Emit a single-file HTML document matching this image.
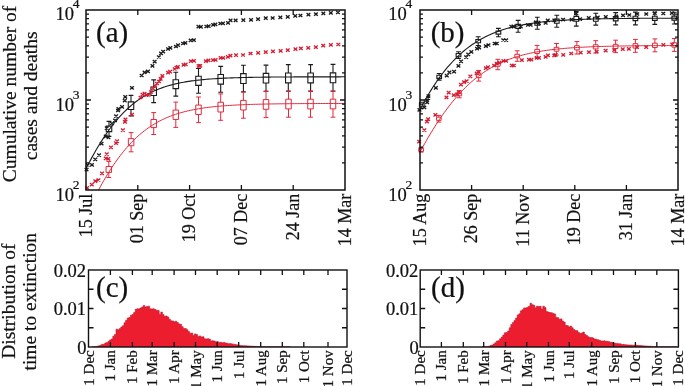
<!DOCTYPE html>
<html><head><meta charset="utf-8"><style>html,body{margin:0;padding:0;background:#fff;overflow:hidden}svg{display:block;will-change:transform}text{font-family:"Liberation Serif",serif;stroke:#111;stroke-width:0.22px}</style></head>
<body><svg width="685" height="386" viewBox="0 0 685 386">
<rect width="685" height="386" fill="#fff"/>
<defs>
<clipPath id="ca"><rect x="86" y="10" width="259" height="180"/></clipPath>
<clipPath id="cb"><rect x="420" y="10" width="258" height="180"/></clipPath>
<clipPath id="cc"><rect x="88.5" y="270" width="258.5" height="77"/></clipPath>
<clipPath id="cd"><rect x="420.2" y="270" width="258.2" height="77"/></clipPath>
</defs>
<g clip-path="url(#ca)" fill="none" stroke-linecap="butt">
<path d="M86.00 168.78 87.63 165.58 89.26 162.44 90.89 159.37 92.52 156.37 94.14 153.44 95.77 150.58 97.40 147.79 99.03 145.07 100.66 142.42 102.29 139.84 103.92 137.33 105.55 134.90 107.18 132.53 108.81 130.24 110.43 128.01 112.06 125.86 113.69 123.77 115.32 121.76 116.95 119.81 118.58 117.92 120.21 116.11 121.84 114.36 123.47 112.67 125.09 111.04 126.72 109.48 128.35 107.97 129.98 106.53 131.61 105.14 133.24 103.80 134.87 102.53 136.50 101.30 138.13 100.12 139.75 99.00 141.38 97.92 143.01 96.89 144.64 95.91 146.27 94.97 147.90 94.07 149.53 93.21 151.16 92.39 152.79 91.61 154.42 90.86 156.04 90.15 157.67 89.47 159.30 88.83 160.93 88.21 162.56 87.63 164.19 87.07 165.82 86.54 167.45 86.04 169.08 85.56 170.70 85.10 172.33 84.67 173.96 84.26 175.59 83.87 177.22 83.50 178.85 83.15 180.48 82.82 182.11 82.50 183.74 82.20 185.36 81.91 186.99 81.64 188.62 81.39 190.25 81.14 191.88 80.91 193.51 80.69 195.14 80.49 196.77 80.29 198.40 80.10 200.03 79.93 201.65 79.76 203.28 79.60 204.91 79.45 206.54 79.31 208.17 79.17 209.80 79.05 211.43 78.93 213.06 78.81 214.69 78.70 216.31 78.60 217.94 78.50 219.57 78.41 221.20 78.33 222.83 78.24 224.46 78.17 226.09 78.09 227.72 78.02 229.35 77.96 230.97 77.89 232.60 77.83 234.23 77.78 235.86 77.73 237.49 77.68 239.12 77.63 240.75 77.58 242.38 77.54 244.01 77.50 245.64 77.46 247.26 77.43 248.89 77.39 250.52 77.36 252.15 77.33 253.78 77.30 255.41 77.27 257.04 77.25 258.67 77.22 260.30 77.20 261.92 77.18 263.55 77.16 265.18 77.14 266.81 77.12 268.44 77.10 270.07 77.09 271.70 77.07 273.33 77.06 274.96 77.04 276.58 77.03 278.21 77.02 279.84 77.01 281.47 76.99 283.10 76.98 284.73 76.97 286.36 76.96 287.99 76.96 289.62 76.95 291.25 76.94 292.87 76.93 294.50 76.92 296.13 76.92 297.76 76.91 299.39 76.91 301.02 76.90 302.65 76.89 304.28 76.89 305.91 76.88 307.53 76.88 309.16 76.88 310.79 76.87 312.42 76.87 314.05 76.86 315.68 76.86 317.31 76.86 318.94 76.85 320.57 76.85 322.19 76.85 323.82 76.85 325.45 76.84 327.08 76.84 328.71 76.84 330.34 76.84 331.97 76.83 333.60 76.83 335.23 76.83 336.86 76.83 338.48 76.83 340.11 76.83 341.74 76.82 343.37 76.82 345.00 76.82" stroke="#1a1a1a" stroke-width="1.1"/>
<path d="M86.00 215.24 87.63 211.75 89.26 208.32 90.89 204.95 92.52 201.65 94.14 198.41 95.77 195.23 97.40 192.12 99.03 189.07 100.66 186.10 102.29 183.18 103.92 180.34 105.55 177.57 107.18 174.86 108.81 172.22 110.43 169.65 112.06 167.15 113.69 164.71 115.32 162.35 116.95 160.05 118.58 157.82 120.21 155.65 121.84 153.55 123.47 151.52 125.09 149.55 126.72 147.65 128.35 145.81 129.98 144.03 131.61 142.31 133.24 140.65 134.87 139.05 136.50 137.51 138.13 136.02 139.75 134.59 141.38 133.21 143.01 131.89 144.64 130.61 146.27 129.39 147.90 128.22 149.53 127.09 151.16 126.00 152.79 124.97 154.42 123.97 156.04 123.02 157.67 122.10 159.30 121.23 160.93 120.39 162.56 119.59 164.19 118.83 165.82 118.09 167.45 117.39 169.08 116.72 170.70 116.09 172.33 115.48 173.96 114.89 175.59 114.34 177.22 113.81 178.85 113.30 180.48 112.82 182.11 112.36 183.74 111.92 185.36 111.50 186.99 111.11 188.62 110.73 190.25 110.37 191.88 110.02 193.51 109.69 195.14 109.38 196.77 109.09 198.40 108.80 200.03 108.53 201.65 108.28 203.28 108.04 204.91 107.81 206.54 107.59 208.17 107.38 209.80 107.18 211.43 106.99 213.06 106.81 214.69 106.64 216.31 106.48 217.94 106.32 219.57 106.17 221.20 106.03 222.83 105.90 224.46 105.78 226.09 105.66 227.72 105.54 229.35 105.44 230.97 105.33 232.60 105.24 234.23 105.14 235.86 105.06 237.49 104.97 239.12 104.89 240.75 104.82 242.38 104.75 244.01 104.68 245.64 104.61 247.26 104.55 248.89 104.49 250.52 104.44 252.15 104.39 253.78 104.34 255.41 104.29 257.04 104.25 258.67 104.20 260.30 104.16 261.92 104.12 263.55 104.09 265.18 104.05 266.81 104.02 268.44 103.99 270.07 103.96 271.70 103.93 273.33 103.91 274.96 103.88 276.58 103.86 278.21 103.83 279.84 103.81 281.47 103.79 283.10 103.77 284.73 103.75 286.36 103.74 287.99 103.72 289.62 103.70 291.25 103.69 292.87 103.67 294.50 103.66 296.13 103.65 297.76 103.64 299.39 103.62 301.02 103.61 302.65 103.60 304.28 103.59 305.91 103.58 307.53 103.58 309.16 103.57 310.79 103.56 312.42 103.55 314.05 103.54 315.68 103.54 317.31 103.53 318.94 103.52 320.57 103.52 322.19 103.51 323.82 103.51 325.45 103.50 327.08 103.50 328.71 103.49 330.34 103.49 331.97 103.49 333.60 103.48 335.23 103.48 336.86 103.47 338.48 103.47 340.11 103.47 341.74 103.47 343.37 103.46 345.00 103.46" stroke="#e02a3c" stroke-width="1.0"/>
</g><g fill="none" stroke-linecap="butt">
<path d="M106.25 126.12h5.50v5.55h-5.50zM128.25 101.86h5.50v7.58h-5.50zM150.95 87.05h5.50v8.40h-5.50zM173.05 79.80h5.50v8.81h-5.50zM195.75 76.28h5.50v9.14h-5.50zM217.95 74.53h5.50v9.55h-5.50zM240.65 73.65h5.50v9.80h-5.50zM263.25 73.35h5.50v9.69h-5.50zM285.55 73.01h5.50v9.88h-5.50zM307.85 73.01h5.50v9.88h-5.50zM330.25 72.87h5.50v9.95h-5.50z" stroke="#1a1a1a" stroke-width="1.1"/><path d="M109.00 121.40V126.12M106.60 121.40h4.80M109.00 131.68V136.40M106.60 136.40h4.80M131.00 95.40V101.86M128.60 95.40h4.80M131.00 109.44V115.90M128.60 115.90h4.80M153.70 79.90V87.05M151.30 79.90h4.80M153.70 95.45V102.60M151.30 102.60h4.80M175.80 72.30V79.80M173.40 72.30h4.80M175.80 88.60V96.10M173.40 96.10h4.80M198.50 68.50V76.28M196.10 68.50h4.80M198.50 85.42V93.20M196.10 93.20h4.80M220.70 66.40V74.53M218.30 66.40h4.80M220.70 84.07V92.20M218.30 92.20h4.80M243.40 65.30V73.65M241.00 65.30h4.80M243.40 83.45V91.80M241.00 91.80h4.80M266.00 65.10V73.35M263.60 65.10h4.80M266.00 83.05V91.30M263.60 91.30h4.80M288.30 64.60V73.01M285.90 64.60h4.80M288.30 82.89V91.30M285.90 91.30h4.80M310.60 64.60V73.01M308.20 64.60h4.80M310.60 82.89V91.30M308.20 91.30h4.80M333.00 64.40V72.87M330.60 64.40h4.80M333.00 82.83V91.30M330.60 91.30h4.80" stroke="#1a1a1a" stroke-width="1.1"/>
<path d="M106.05 166.47h5.50v5.96h-5.50zM128.35 138.65h5.50v7.10h-5.50zM150.95 119.50h5.50v8.10h-5.50zM173.05 110.07h5.50v9.36h-5.50zM195.75 105.06h5.50v9.47h-5.50zM217.95 102.22h5.50v9.77h-5.50zM240.65 100.39h5.50v9.62h-5.50zM263.25 99.58h5.50v9.73h-5.50zM285.75 99.18h5.50v9.73h-5.50zM307.75 99.18h5.50v9.73h-5.50zM330.25 99.18h5.50v9.73h-5.50z" stroke="#e02a3c" stroke-width="1.0"/><path d="M108.80 161.40V166.47M106.40 161.40h4.80M108.80 172.43V177.50M106.40 177.50h4.80M131.10 132.60V138.65M128.70 132.60h4.80M131.10 145.75V151.80M128.70 151.80h4.80M153.70 112.60V119.50M151.30 112.60h4.80M153.70 127.60V134.50M151.30 134.50h4.80M175.80 102.10V110.07M173.40 102.10h4.80M175.80 119.43V127.40M173.40 127.40h4.80M198.50 97.00V105.06M196.10 97.00h4.80M198.50 114.54V122.60M196.10 122.60h4.80M220.70 93.90V102.22M218.30 93.90h4.80M220.70 111.98V120.30M218.30 120.30h4.80M243.40 92.20V100.39M241.00 92.20h4.80M243.40 110.01V118.20M241.00 118.20h4.80M266.00 91.30V99.58M263.60 91.30h4.80M266.00 109.32V117.60M263.60 117.60h4.80M288.50 90.90V99.18M286.10 90.90h4.80M288.50 108.92V117.20M286.10 117.20h4.80M310.50 90.90V99.18M308.10 90.90h4.80M310.50 108.92V117.20M308.10 117.20h4.80M333.00 90.90V99.18M330.60 90.90h4.80M333.00 108.92V117.20M330.60 117.20h4.80" stroke="#e02a3c" stroke-width="1.0"/>
<path d="M84.7 168.0l3.7 3.2M84.7 171.2l3.7 -3.2M85.8 163.4l3.7 3.2M85.8 166.6l3.7 -3.2M90.1 163.2l3.7 3.2M90.1 166.4l3.7 -3.2M93.4 157.8l3.7 3.2M93.4 161.0l3.7 -3.2M97.2 153.6l3.7 3.2M97.2 156.8l3.7 -3.2M99.7 142.1l3.7 3.2M99.7 145.3l3.7 -3.2M103.9 134.8l3.7 3.2M103.9 138.0l3.7 -3.2M106.5 135.8l3.7 3.2M106.5 139.0l3.7 -3.2M104.9 126.5l3.7 3.2M104.9 129.7l3.7 -3.2M110.1 121.9l3.7 3.2M110.1 125.1l3.7 -3.2M113.2 118.8l3.7 3.2M113.2 122.0l3.7 -3.2M114.2 114.6l3.7 3.2M114.2 117.8l3.7 -3.2M116.2 108.9l3.7 3.2M116.2 112.1l3.7 -3.2M116.6 107.3l3.7 3.2M116.6 110.5l3.7 -3.2M120.2 105.2l3.7 3.2M120.2 108.4l3.7 -3.2M122.9 99.0l3.7 3.2M122.9 102.2l3.7 -3.2M123.4 95.3l3.7 3.2M123.4 98.5l3.7 -3.2M130.1 86.2l3.7 3.2M130.1 89.4l3.7 -3.2M139.8 73.9l3.7 3.2M139.8 77.1l3.7 -3.2M142.7 70.7l3.7 3.2M142.7 73.9l3.7 -3.2M146.1 69.7l3.7 3.2M146.1 72.9l3.7 -3.2M150.6 64.3l3.7 3.2M150.6 67.5l3.7 -3.2M152.8 60.0l3.7 3.2M152.8 63.2l3.7 -3.2M157.0 55.4l3.7 3.2M157.0 58.6l3.7 -3.2M159.2 51.8l3.7 3.2M159.2 55.0l3.7 -3.2M161.3 50.0l3.7 3.2M161.3 53.2l3.7 -3.2M166.2 47.4l3.7 3.2M166.2 50.6l3.7 -3.2M168.5 46.3l3.7 3.2M168.5 49.5l3.7 -3.2M174.1 44.9l3.7 3.2M174.1 48.1l3.7 -3.2M176.2 43.5l3.7 3.2M176.2 46.7l3.7 -3.2M181.2 41.9l3.7 3.2M181.2 45.1l3.7 -3.2M183.5 41.3l3.7 3.2M183.5 44.5l3.7 -3.2M188.8 38.7l3.7 3.2M188.8 41.9l3.7 -3.2M192.0 38.6l3.7 3.2M192.0 41.8l3.7 -3.2M196.6 25.1l3.7 3.2M196.6 28.3l3.7 -3.2M199.0 25.3l3.7 3.2M199.0 28.5l3.7 -3.2M204.5 24.9l3.7 3.2M204.5 28.1l3.7 -3.2M206.8 24.6l3.7 3.2M206.8 27.8l3.7 -3.2M211.3 23.3l3.7 3.2M211.3 26.5l3.7 -3.2M213.5 22.8l3.7 3.2M213.5 26.0l3.7 -3.2M218.5 21.9l3.7 3.2M218.5 25.1l3.7 -3.2M221.1 21.7l3.7 3.2M221.1 24.9l3.7 -3.2M226.2 21.2l3.7 3.2M226.2 24.4l3.7 -3.2M228.7 18.7l3.7 3.2M228.7 21.9l3.7 -3.2M233.8 18.7l3.7 3.2M233.8 21.9l3.7 -3.2M241.5 18.5l3.7 3.2M241.5 21.7l3.7 -3.2M249.2 18.2l3.7 3.2M249.2 21.4l3.7 -3.2M256.2 17.6l3.7 3.2M256.2 20.8l3.7 -3.2M263.9 16.5l3.7 3.2M263.9 19.7l3.7 -3.2M270.8 16.4l3.7 3.2M270.8 19.6l3.7 -3.2M278.5 15.8l3.7 3.2M278.5 19.0l3.7 -3.2M285.9 15.2l3.7 3.2M285.9 18.4l3.7 -3.2M293.4 14.3l3.7 3.2M293.4 17.5l3.7 -3.2M298.6 13.9l3.7 3.2M298.6 17.1l3.7 -3.2M306.6 13.1l3.7 3.2M306.6 16.3l3.7 -3.2M314.1 12.6l3.7 3.2M314.1 15.8l3.7 -3.2M321.5 11.7l3.7 3.2M321.5 14.9l3.7 -3.2M329.0 11.3l3.7 3.2M329.0 14.5l3.7 -3.2M336.1 10.9l3.7 3.2M336.1 14.1l3.7 -3.2" stroke="#1a1a1a" stroke-width="1.35"/>
<path d="M85.2 186.2l3.7 3.2M85.2 189.4l3.7 -3.2M89.9 183.1l3.7 3.2M89.9 186.3l3.7 -3.2M93.5 179.5l3.7 3.2M93.5 182.7l3.7 -3.2M96.6 178.4l3.7 3.2M96.6 181.6l3.7 -3.2M100.2 171.7l3.7 3.2M100.2 174.9l3.7 -3.2M103.9 156.7l3.7 3.2M103.9 159.9l3.7 -3.2M104.9 152.5l3.7 3.2M104.9 155.7l3.7 -3.2M106.5 157.2l3.7 3.2M106.5 160.4l3.7 -3.2M109.1 145.7l3.7 3.2M109.1 148.9l3.7 -3.2M114.2 141.6l3.7 3.2M114.2 144.8l3.7 -3.2M115.2 139.5l3.7 3.2M115.2 142.7l3.7 -3.2M121.0 128.6l3.7 3.2M121.0 131.8l3.7 -3.2M123.1 120.3l3.7 3.2M123.1 123.5l3.7 -3.2M123.6 117.7l3.7 3.2M123.6 120.9l3.7 -3.2M130.2 113.1l3.7 3.2M130.2 116.3l3.7 -3.2M138.7 95.9l3.7 3.2M138.7 99.1l3.7 -3.2M140.7 92.9l3.7 3.2M140.7 96.1l3.7 -3.2M142.7 91.9l3.7 3.2M142.7 95.1l3.7 -3.2M144.7 93.4l3.7 3.2M144.7 96.6l3.7 -3.2M146.7 93.4l3.7 3.2M146.7 96.6l3.7 -3.2M149.2 90.4l3.7 3.2M149.2 93.6l3.7 -3.2M151.2 86.9l3.7 3.2M151.2 90.1l3.7 -3.2M153.2 84.4l3.7 3.2M153.2 87.6l3.7 -3.2M155.2 81.9l3.7 3.2M155.2 85.1l3.7 -3.2M157.2 79.9l3.7 3.2M157.2 83.1l3.7 -3.2M158.8 77.3l3.7 3.2M158.8 80.5l3.7 -3.2M160.5 74.2l3.7 3.2M160.5 77.4l3.7 -3.2M166.2 71.0l3.7 3.2M166.2 74.2l3.7 -3.2M168.2 70.0l3.7 3.2M168.2 73.2l3.7 -3.2M172.8 67.4l3.7 3.2M172.8 70.6l3.7 -3.2M174.5 65.9l3.7 3.2M174.5 69.1l3.7 -3.2M176.0 65.3l3.7 3.2M176.0 68.5l3.7 -3.2M181.7 63.3l3.7 3.2M181.7 66.5l3.7 -3.2M183.8 62.8l3.7 3.2M183.8 66.0l3.7 -3.2M189.0 59.6l3.7 3.2M189.0 62.8l3.7 -3.2M192.1 59.2l3.7 3.2M192.1 62.4l3.7 -3.2M196.8 64.3l3.7 3.2M196.8 67.5l3.7 -3.2M198.3 64.3l3.7 3.2M198.3 67.5l3.7 -3.2M204.0 59.5l3.7 3.2M204.0 62.7l3.7 -3.2M206.6 58.7l3.7 3.2M206.6 61.9l3.7 -3.2M211.2 58.5l3.7 3.2M211.2 61.7l3.7 -3.2M213.7 58.2l3.7 3.2M213.7 61.4l3.7 -3.2M218.8 56.2l3.7 3.2M218.8 59.4l3.7 -3.2M221.3 56.2l3.7 3.2M221.3 59.4l3.7 -3.2M226.0 55.2l3.7 3.2M226.0 58.4l3.7 -3.2M228.6 54.1l3.7 3.2M228.6 57.3l3.7 -3.2M234.2 53.6l3.7 3.2M234.2 56.8l3.7 -3.2M241.2 53.4l3.7 3.2M241.2 56.6l3.7 -3.2M248.7 51.9l3.7 3.2M248.7 55.1l3.7 -3.2M256.3 51.2l3.7 3.2M256.3 54.4l3.7 -3.2M263.9 50.5l3.7 3.2M263.9 53.7l3.7 -3.2M271.1 49.7l3.7 3.2M271.1 52.9l3.7 -3.2M278.8 49.2l3.7 3.2M278.8 52.4l3.7 -3.2M285.9 48.5l3.7 3.2M285.9 51.7l3.7 -3.2M293.6 47.6l3.7 3.2M293.6 50.8l3.7 -3.2M299.0 46.8l3.7 3.2M299.0 50.0l3.7 -3.2M306.4 46.2l3.7 3.2M306.4 49.4l3.7 -3.2M314.0 45.6l3.7 3.2M314.0 48.8l3.7 -3.2M321.4 44.1l3.7 3.2M321.4 47.3l3.7 -3.2M329.0 43.2l3.7 3.2M329.0 46.4l3.7 -3.2M336.5 42.9l3.7 3.2M336.5 46.1l3.7 -3.2" stroke="#d61c32" stroke-width="1.35"/>
</g>
<g clip-path="url(#cb)" fill="none" stroke-linecap="butt">
<path d="M420.00 109.48 421.62 106.42 423.25 103.44 424.87 100.53 426.49 97.69 428.11 94.93 429.74 92.24 431.36 89.62 432.98 87.07 434.60 84.59 436.23 82.19 437.85 79.85 439.47 77.58 441.09 75.37 442.72 73.24 444.34 71.17 445.96 69.16 447.58 67.22 449.21 65.33 450.83 63.51 452.45 61.75 454.08 60.05 455.70 58.40 457.32 56.81 458.94 55.28 460.57 53.79 462.19 52.36 463.81 50.98 465.43 49.65 467.06 48.37 468.68 47.14 470.30 45.95 471.92 44.80 473.55 43.70 475.17 42.64 476.79 41.62 478.42 40.64 480.04 39.69 481.66 38.78 483.28 37.91 484.91 37.07 486.53 36.27 488.15 35.50 489.77 34.75 491.40 34.04 493.02 33.36 494.64 32.70 496.26 32.08 497.89 31.47 499.51 30.89 501.13 30.34 502.75 29.81 504.38 29.30 506.00 28.81 507.62 28.34 509.25 27.89 510.87 27.47 512.49 27.05 514.11 26.66 515.74 26.28 517.36 25.92 518.98 25.58 520.60 25.25 522.23 24.93 523.85 24.63 525.47 24.34 527.09 24.06 528.72 23.80 530.34 23.54 531.96 23.30 533.58 23.07 535.21 22.85 536.83 22.63 538.45 22.43 540.08 22.24 541.70 22.05 543.32 21.87 544.94 21.71 546.57 21.54 548.19 21.39 549.81 21.24 551.43 21.10 553.06 20.96 554.68 20.83 556.30 20.71 557.92 20.59 559.55 20.48 561.17 20.37 562.79 20.27 564.42 20.17 566.04 20.08 567.66 19.99 569.28 19.90 570.91 19.82 572.53 19.74 574.15 19.66 575.77 19.59 577.40 19.53 579.02 19.46 580.64 19.40 582.26 19.34 583.89 19.28 585.51 19.23 587.13 19.17 588.75 19.13 590.38 19.08 592.00 19.03 593.62 18.99 595.25 18.95 596.87 18.91 598.49 18.87 600.11 18.84 601.74 18.80 603.36 18.77 604.98 18.74 606.60 18.71 608.23 18.68 609.85 18.65 611.47 18.62 613.09 18.60 614.72 18.58 616.34 18.55 617.96 18.53 619.58 18.51 621.21 18.49 622.83 18.47 624.45 18.45 626.08 18.44 627.70 18.42 629.32 18.41 630.94 18.39 632.57 18.38 634.19 18.36 635.81 18.35 637.43 18.34 639.06 18.33 640.68 18.31 642.30 18.30 643.92 18.29 645.55 18.28 647.17 18.27 648.79 18.26 650.42 18.26 652.04 18.25 653.66 18.24 655.28 18.23 656.91 18.22 658.53 18.22 660.15 18.21 661.77 18.21 663.40 18.20 665.02 18.19 666.64 18.19 668.26 18.18 669.89 18.18 671.51 18.17 673.13 18.17 674.75 18.16 676.38 18.16 678.00 18.16" stroke="#1a1a1a" stroke-width="1.1"/>
<path d="M420.00 152.08 421.62 149.10 423.25 146.16 424.87 143.27 426.49 140.43 428.11 137.64 429.74 134.89 431.36 132.20 432.98 129.55 434.60 126.96 436.23 124.42 437.85 121.93 439.47 119.49 441.09 117.10 442.72 114.77 444.34 112.48 445.96 110.25 447.58 108.08 449.21 105.95 450.83 103.88 452.45 101.85 454.08 99.88 455.70 97.97 457.32 96.10 458.94 94.28 460.57 92.51 462.19 90.80 463.81 89.13 465.43 87.51 467.06 85.94 468.68 84.42 470.30 82.94 471.92 81.51 473.55 80.12 475.17 78.78 476.79 77.48 478.42 76.23 480.04 75.01 481.66 73.84 483.28 72.71 484.91 71.62 486.53 70.56 488.15 69.54 489.77 68.56 491.40 67.62 493.02 66.71 494.64 65.83 496.26 64.98 497.89 64.17 499.51 63.39 501.13 62.63 502.75 61.91 504.38 61.21 506.00 60.54 507.62 59.90 509.25 59.28 510.87 58.69 512.49 58.12 514.11 57.57 515.74 57.05 517.36 56.55 518.98 56.07 520.60 55.60 522.23 55.16 523.85 54.73 525.47 54.33 527.09 53.94 528.72 53.56 530.34 53.20 531.96 52.86 533.58 52.53 535.21 52.22 536.83 51.92 538.45 51.63 540.08 51.35 541.70 51.09 543.32 50.84 544.94 50.59 546.57 50.36 548.19 50.14 549.81 49.93 551.43 49.73 553.06 49.54 554.68 49.35 556.30 49.17 557.92 49.01 559.55 48.84 561.17 48.69 562.79 48.54 564.42 48.40 566.04 48.27 567.66 48.14 569.28 48.02 570.91 47.90 572.53 47.79 574.15 47.68 575.77 47.58 577.40 47.48 579.02 47.38 580.64 47.30 582.26 47.21 583.89 47.13 585.51 47.05 587.13 46.98 588.75 46.91 590.38 46.84 592.00 46.77 593.62 46.71 595.25 46.65 596.87 46.60 598.49 46.54 600.11 46.49 601.74 46.44 603.36 46.40 604.98 46.35 606.60 46.31 608.23 46.27 609.85 46.23 611.47 46.19 613.09 46.16 614.72 46.12 616.34 46.09 617.96 46.06 619.58 46.03 621.21 46.00 622.83 45.98 624.45 45.95 626.08 45.93 627.70 45.90 629.32 45.88 630.94 45.86 632.57 45.84 634.19 45.82 635.81 45.80 637.43 45.78 639.06 45.77 640.68 45.75 642.30 45.74 643.92 45.72 645.55 45.71 647.17 45.70 648.79 45.68 650.42 45.67 652.04 45.66 653.66 45.65 655.28 45.64 656.91 45.63 658.53 45.62 660.15 45.61 661.77 45.60 663.40 45.59 665.02 45.58 666.64 45.58 668.26 45.57 669.89 45.56 671.51 45.56 673.13 45.55 674.75 45.54 676.38 45.54 678.00 45.53" stroke="#e02a3c" stroke-width="1.0"/>
</g><g fill="none" stroke-linecap="butt">
<path d="M419.45 102.20h4.70v4.80h-4.70zM436.85 75.20h4.70v3.20h-4.70zM456.15 53.55h4.70v3.20h-4.70zM475.85 39.50h4.70v3.20h-4.70zM496.05 30.95h4.70v3.20h-4.70zM515.75 24.33h4.70v4.05h-4.70zM534.95 21.23h4.70v4.05h-4.70zM554.45 19.16h4.70v4.08h-4.70zM573.95 16.39h4.70v4.93h-4.70zM593.45 17.19h4.70v4.01h-4.70zM613.35 16.66h4.70v4.18h-4.70zM633.05 16.32h4.70v4.35h-4.70zM652.45 16.29h4.70v4.11h-4.70zM671.95 16.16h4.70v3.98h-4.70z" stroke="#1a1a1a" stroke-width="1.1"/><path d="M439.20 73.50V75.20M436.80 73.50h4.80M439.20 78.40V80.10M436.80 80.10h4.80M458.50 51.80V53.55M456.10 51.80h4.80M458.50 56.75V58.50M456.10 58.50h4.80M478.20 36.70V39.50M475.80 36.70h4.80M478.20 42.70V45.50M475.80 45.50h4.80M498.40 28.40V30.95M496.00 28.40h4.80M498.40 34.15V36.70M496.00 36.70h4.80M518.10 20.40V24.33M515.70 20.40h4.80M518.10 28.37V32.30M515.70 32.30h4.80M537.30 17.30V21.23M534.90 17.30h4.80M537.30 25.27V29.20M534.90 29.20h4.80M556.80 15.20V19.16M554.40 15.20h4.80M556.80 23.24V27.20M554.40 27.20h4.80M576.30 11.60V16.39M573.90 11.60h4.80M576.30 21.32V26.10M573.90 26.10h4.80M595.80 13.30V17.19M593.40 13.30h4.80M595.80 21.21V25.10M593.40 25.10h4.80M615.70 12.60V16.66M613.30 12.60h4.80M615.70 20.84V24.90M613.30 24.90h4.80M635.40 12.10V16.32M633.00 12.10h4.80M635.40 20.68V24.90M633.00 24.90h4.80M654.80 12.30V16.29M652.40 12.30h4.80M654.80 20.41V24.40M652.40 24.40h4.80M674.30 12.30V16.16M671.90 12.30h4.80M674.30 20.14V24.00M671.90 24.00h4.80" stroke="#1a1a1a" stroke-width="1.1"/>
<path d="M418.75 148.25h4.70v3.20h-4.70zM436.45 117.15h4.70v3.20h-4.70zM456.95 92.60h4.70v3.20h-4.70zM476.35 74.13h4.70v3.54h-4.70zM495.45 62.73h4.70v3.54h-4.70zM514.85 54.27h4.70v3.57h-4.70zM534.75 49.36h4.70v4.08h-4.70zM554.15 47.30h4.70v3.91h-4.70zM574.55 45.69h4.70v4.22h-4.70zM593.35 44.76h4.70v4.18h-4.70zM613.25 44.29h4.70v4.22h-4.70zM633.05 43.66h4.70v4.39h-4.70zM652.55 43.16h4.70v4.39h-4.70zM671.95 42.76h4.70v4.39h-4.70z" stroke="#e02a3c" stroke-width="1.0"/><path d="M421.10 147.60V148.25M418.70 147.60h4.80M421.10 151.45V152.10M418.70 152.10h4.80M438.80 115.40V117.15M436.40 115.40h4.80M438.80 120.35V122.10M436.40 122.10h4.80M459.30 90.60V92.60M456.90 90.60h4.80M459.30 95.80V97.80M456.90 97.80h4.80M478.70 70.70V74.13M476.30 70.70h4.80M478.70 77.67V81.10M476.30 81.10h4.80M497.80 59.30V62.73M495.40 59.30h4.80M497.80 66.27V69.70M495.40 69.70h4.80M517.20 50.80V54.27M514.80 50.80h4.80M517.20 57.83V61.30M514.80 61.30h4.80M537.10 45.40V49.36M534.70 45.40h4.80M537.10 53.44V57.40M534.70 57.40h4.80M556.50 43.50V47.30M554.10 43.50h4.80M556.50 51.20V55.00M554.10 55.00h4.80M576.90 41.60V45.69M574.50 41.60h4.80M576.90 49.91V54.00M574.50 54.00h4.80M595.70 40.70V44.76M593.30 40.70h4.80M595.70 48.94V53.00M593.30 53.00h4.80M615.60 40.20V44.29M613.20 40.20h4.80M615.60 48.51V52.60M613.20 52.60h4.80M635.40 39.40V43.66M633.00 39.40h4.80M635.40 48.04V52.30M633.00 52.30h4.80M654.90 38.90V43.16M652.50 38.90h4.80M654.90 47.54V51.80M652.50 51.80h4.80M674.30 38.50V42.76M671.90 38.50h4.80M674.30 47.14V51.40M671.90 51.40h4.80" stroke="#e02a3c" stroke-width="1.0"/>
<path d="M417.6 108.2l3.7 3.2M417.6 111.4l3.7 -3.2M422.5 105.8l3.7 3.2M422.5 109.0l3.7 -3.2M425.3 100.7l3.7 3.2M425.3 103.9l3.7 -3.2M425.3 98.6l3.7 3.2M425.3 101.8l3.7 -3.2M426.3 96.5l3.7 3.2M426.3 99.7l3.7 -3.2M426.6 94.4l3.7 3.2M426.6 97.6l3.7 -3.2M434.0 86.2l3.7 3.2M434.0 89.4l3.7 -3.2M444.9 74.1l3.7 3.2M444.9 77.3l3.7 -3.2M447.5 70.8l3.7 3.2M447.5 74.0l3.7 -3.2M452.2 70.1l3.7 3.2M452.2 73.3l3.7 -3.2M456.6 64.2l3.7 3.2M456.6 67.4l3.7 -3.2M459.2 59.7l3.7 3.2M459.2 62.9l3.7 -3.2M464.3 55.5l3.7 3.2M464.3 58.7l3.7 -3.2M466.4 52.8l3.7 3.2M466.4 56.0l3.7 -3.2M469.5 50.2l3.7 3.2M469.5 53.4l3.7 -3.2M475.2 47.1l3.7 3.2M475.2 50.3l3.7 -3.2M477.3 46.0l3.7 3.2M477.3 49.2l3.7 -3.2M484.0 44.5l3.7 3.2M484.0 47.7l3.7 -3.2M486.6 43.4l3.7 3.2M486.6 46.6l3.7 -3.2M492.8 41.9l3.7 3.2M492.8 45.1l3.7 -3.2M494.9 41.9l3.7 3.2M494.9 45.1l3.7 -3.2M501.4 38.4l3.7 3.2M501.4 41.6l3.7 -3.2M504.3 38.5l3.7 3.2M504.3 41.7l3.7 -3.2M509.5 25.0l3.7 3.2M509.5 28.2l3.7 -3.2M511.6 24.8l3.7 3.2M511.6 28.0l3.7 -3.2M518.9 25.0l3.7 3.2M518.9 28.2l3.7 -3.2M526.1 23.4l3.7 3.2M526.1 26.6l3.7 -3.2M528.8 23.4l3.7 3.2M528.8 26.6l3.7 -3.2M533.9 20.8l3.7 3.2M533.9 24.0l3.7 -3.2M537.0 21.9l3.7 3.2M537.0 25.1l3.7 -3.2M543.8 21.4l3.7 3.2M543.8 24.6l3.7 -3.2M545.9 18.8l3.7 3.2M545.9 22.0l3.7 -3.2M552.5 18.8l3.7 3.2M552.5 22.0l3.7 -3.2M561.2 18.1l3.7 3.2M561.2 21.3l3.7 -3.2M569.8 18.1l3.7 3.2M569.8 21.3l3.7 -3.2M574.4 11.9l3.7 3.2M574.4 15.1l3.7 -3.2M578.2 17.6l3.7 3.2M578.2 20.8l3.7 -3.2M586.9 16.2l3.7 3.2M586.9 19.4l3.7 -3.2M595.9 15.7l3.7 3.2M595.9 18.9l3.7 -3.2M603.9 15.3l3.7 3.2M603.9 18.5l3.7 -3.2M614.4 14.8l3.7 3.2M614.4 18.0l3.7 -3.2M621.2 13.8l3.7 3.2M621.2 17.0l3.7 -3.2M627.4 13.4l3.7 3.2M627.4 16.6l3.7 -3.2M635.4 12.4l3.7 3.2M635.4 15.6l3.7 -3.2M644.4 12.4l3.7 3.2M644.4 15.6l3.7 -3.2M652.9 11.5l3.7 3.2M652.9 14.7l3.7 -3.2M661.5 11.9l3.7 3.2M661.5 15.1l3.7 -3.2M670.0 11.5l3.7 3.2M670.0 14.7l3.7 -3.2" stroke="#1a1a1a" stroke-width="1.35"/>
<path d="M417.3 140.1l3.7 3.2M417.3 143.3l3.7 -3.2M422.5 128.5l3.7 3.2M422.5 131.7l3.7 -3.2M425.1 120.1l3.7 3.2M425.1 123.3l3.7 -3.2M426.3 117.5l3.7 3.2M426.3 120.7l3.7 -3.2M433.5 113.3l3.7 3.2M433.5 116.5l3.7 -3.2M444.6 95.7l3.7 3.2M444.6 98.9l3.7 -3.2M446.8 91.0l3.7 3.2M446.8 94.2l3.7 -3.2M451.9 93.6l3.7 3.2M451.9 96.8l3.7 -3.2M455.5 92.5l3.7 3.2M455.5 95.7l3.7 -3.2M457.0 90.5l3.7 3.2M457.0 93.7l3.7 -3.2M459.1 83.1l3.7 3.2M459.1 86.3l3.7 -3.2M462.2 80.5l3.7 3.2M462.2 83.7l3.7 -3.2M464.8 79.5l3.7 3.2M464.8 82.7l3.7 -3.2M468.5 74.8l3.7 3.2M468.5 78.0l3.7 -3.2M474.8 71.7l3.7 3.2M474.8 74.9l3.7 -3.2M476.8 70.2l3.7 3.2M476.8 73.4l3.7 -3.2M484.0 66.6l3.7 3.2M484.0 69.8l3.7 -3.2M486.1 65.6l3.7 3.2M486.1 68.8l3.7 -3.2M492.3 63.9l3.7 3.2M492.3 67.1l3.7 -3.2M494.9 62.0l3.7 3.2M494.9 65.2l3.7 -3.2M497.5 61.0l3.7 3.2M497.5 64.2l3.7 -3.2M501.6 59.3l3.7 3.2M501.6 62.5l3.7 -3.2M504.2 59.3l3.7 3.2M504.2 62.5l3.7 -3.2M509.9 63.9l3.7 3.2M509.9 67.1l3.7 -3.2M512.0 63.9l3.7 3.2M512.0 67.1l3.7 -3.2M520.0 58.5l3.7 3.2M520.0 61.7l3.7 -3.2M527.1 58.1l3.7 3.2M527.1 61.3l3.7 -3.2M529.5 58.1l3.7 3.2M529.5 61.3l3.7 -3.2M534.8 56.2l3.7 3.2M534.8 59.4l3.7 -3.2M537.1 56.2l3.7 3.2M537.1 59.4l3.7 -3.2M543.8 55.2l3.7 3.2M543.8 58.4l3.7 -3.2M546.1 53.8l3.7 3.2M546.1 57.0l3.7 -3.2M552.4 53.8l3.7 3.2M552.4 57.0l3.7 -3.2M553.8 53.3l3.7 3.2M553.8 56.5l3.7 -3.2M561.4 53.3l3.7 3.2M561.4 56.5l3.7 -3.2M569.4 51.9l3.7 3.2M569.4 55.1l3.7 -3.2M578.8 51.0l3.7 3.2M578.8 54.2l3.7 -3.2M587.1 50.5l3.7 3.2M587.1 53.7l3.7 -3.2M594.8 50.0l3.7 3.2M594.8 53.2l3.7 -3.2M603.8 49.1l3.7 3.2M603.8 52.3l3.7 -3.2M612.4 48.6l3.7 3.2M612.4 51.8l3.7 -3.2M620.9 47.6l3.7 3.2M620.9 50.8l3.7 -3.2M627.0 47.2l3.7 3.2M627.0 50.4l3.7 -3.2M635.1 45.6l3.7 3.2M635.1 48.8l3.7 -3.2M644.4 45.5l3.7 3.2M644.4 48.7l3.7 -3.2M661.5 43.2l3.7 3.2M661.5 46.4l3.7 -3.2M670.4 42.8l3.7 3.2M670.4 46.0l3.7 -3.2" stroke="#d61c32" stroke-width="1.35"/>
</g>
<g clip-path="url(#cc)"><path d="M92.00 347.0V346.70H93.60V346.70H95.20V346.57H96.80V346.16H98.40V345.75H100.00V345.19H101.60V344.26H103.20V344.28H104.80V342.96H106.40V342.39H108.00V341.22H109.60V339.90H111.20V338.99H112.80V336.16H114.40V334.44H116.00V329.14H117.60V329.72H119.20V328.58H120.80V326.97H122.40V325.63H124.00V322.65H125.60V320.31H127.20V318.10H128.80V317.42H130.40V315.13H132.00V314.46H133.60V312.60H135.20V309.35H136.80V308.79H138.40V308.78H140.00V307.93H141.60V306.98H143.20V305.51H144.80V306.90H146.40V306.51H148.00V306.13H149.60V308.71H151.20V309.04H152.80V308.75H154.40V309.45H156.00V310.20H157.60V310.44H159.20V314.16H160.80V312.02H162.40V314.55H164.00V316.27H165.60V316.01H167.20V316.95H168.80V319.13H170.40V320.76H172.00V320.88H173.60V321.76H175.20V321.22H176.80V322.52H178.40V323.91H180.00V324.28H181.60V326.63H183.20V328.49H184.80V328.54H186.40V329.78H188.00V331.61H189.60V333.13H191.20V333.00H192.80V335.57H194.40V333.89H196.00V334.56H197.60V336.42H199.20V335.91H200.80V337.03H202.40V336.70H204.00V338.79H205.60V338.90H207.20V338.75H208.80V339.10H210.40V340.87H212.00V340.74H213.60V340.96H215.20V341.74H216.80V341.53H218.40V342.46H220.00V342.25H221.60V342.78H223.20V342.42H224.80V342.96H226.40V343.26H228.00V343.73H229.60V343.41H231.20V343.89H232.80V344.20H234.40V344.46H236.00V344.83H237.60V345.14H239.20V345.42H240.80V345.56H242.40V345.64H244.00V345.72H245.60V345.81H247.20V345.92H248.80V346.03H250.40V346.14H252.00V346.25H253.60V346.33H255.20V346.40H256.80V346.46H258.40V346.53H260.00V346.60H261.60V346.63H263.20V346.65H264.80V346.68H266.40V346.70H268.00V346.70H269.60V346.70H271.20V346.70H272.80V346.70H274.40V346.70H276.00V346.70H277.60V346.70H279.20V346.70H280.80V346.70H282.40V346.70H284.00V346.70H285.60V346.70H287.20V346.70H288.80V346.70H290.40V347.0Z" fill="#ec1d2f" stroke="none"/>
<path d="M92.00 347.0V346.70H93.60V346.70H95.20V346.57H96.80V346.16H98.40V345.75H100.00V345.19H101.60V344.26H103.20V344.28H104.80V342.96H106.40V342.39H108.00V341.22H109.60V339.90H111.20V338.99H112.80V336.16H114.40V334.44H116.00V329.14H117.60V329.72H119.20V328.58H120.80V326.97H122.40V325.63H124.00V322.65H125.60V320.31H127.20V318.10H128.80V317.42H130.40V315.13H132.00V314.46H133.60V312.60H135.20V309.35H136.80V308.79H138.40V308.78H140.00V307.93H141.60V306.98H143.20V305.51H144.80V306.90H146.40V306.51H148.00V306.13H149.60V308.71H151.20V309.04H152.80V308.75H154.40V309.45H156.00V310.20H157.60V310.44H159.20V314.16H160.80V312.02H162.40V314.55H164.00V316.27H165.60V316.01H167.20V316.95H168.80V319.13H170.40V320.76H172.00V320.88H173.60V321.76H175.20V321.22H176.80V322.52H178.40V323.91H180.00V324.28H181.60V326.63H183.20V328.49H184.80V328.54H186.40V329.78H188.00V331.61H189.60V333.13H191.20V333.00H192.80V335.57H194.40V333.89H196.00V334.56H197.60V336.42H199.20V335.91H200.80V337.03H202.40V336.70H204.00V338.79H205.60V338.90H207.20V338.75H208.80V339.10H210.40V340.87H212.00V340.74H213.60V340.96H215.20V341.74H216.80V341.53H218.40V342.46H220.00V342.25H221.60V342.78H223.20V342.42H224.80V342.96H226.40V343.26H228.00V343.73H229.60V343.41H231.20V343.89H232.80V344.20H234.40V344.46H236.00V344.83H237.60V345.14H239.20V345.42H240.80V345.56H242.40V345.64H244.00V345.72H245.60V345.81H247.20V345.92H248.80V346.03H250.40V346.14H252.00V346.25H253.60V346.33H255.20V346.40H256.80V346.46H258.40V346.53H260.00V346.60H261.60V346.63H263.20V346.65H264.80V346.68H266.40V346.70H268.00V346.70H269.60V346.70H271.20V346.70H272.80V346.70H274.40V346.70H276.00V346.70H277.60V346.70H279.20V346.70H280.80V346.70H282.40V346.70H284.00V346.70H285.60V346.70H287.20V346.70H288.80V346.70H290.40" fill="none" stroke="#b3142c" stroke-width="0.55"/></g>
<g clip-path="url(#cd)"><path d="M482.00 347.0V346.70H483.60V346.70H485.20V346.70H486.80V346.47H488.40V346.16H490.00V345.55H491.60V345.00H493.20V343.96H494.80V342.63H496.40V340.98H498.00V340.64H499.60V338.77H501.20V337.07H502.80V335.07H504.40V332.70H506.00V332.44H507.60V331.05H509.20V327.70H510.80V324.43H512.40V322.39H514.00V320.43H515.60V318.09H517.20V314.88H518.80V313.77H520.40V310.79H522.00V309.67H523.60V307.89H525.20V307.89H526.80V307.37H528.40V306.32H530.00V303.16H531.60V304.63H533.20V305.26H534.80V307.86H536.40V306.22H538.00V306.61H539.60V306.35H541.20V308.92H542.80V306.16H544.40V307.57H546.00V311.60H547.60V312.00H549.20V312.54H550.80V312.67H552.40V313.49H554.00V313.96H555.60V317.15H557.20V317.63H558.80V319.21H560.40V318.88H562.00V321.01H563.60V322.11H565.20V325.34H566.80V325.58H568.40V327.03H570.00V326.12H571.60V327.74H573.20V329.46H574.80V330.51H576.40V330.70H578.00V332.59H579.60V333.47H581.20V332.93H582.80V332.07H584.40V334.61H586.00V335.60H587.60V336.73H589.20V337.57H590.80V337.39H592.40V338.06H594.00V339.07H595.60V339.34H597.20V339.83H598.80V340.23H600.40V341.09H602.00V340.88H603.60V340.85H605.20V341.30H606.80V341.36H608.40V341.77H610.00V342.14H611.60V342.37H613.20V343.09H614.80V343.31H616.40V343.40H618.00V343.72H619.60V343.81H621.20V344.58H622.80V344.36H624.40V344.73H626.00V344.86H627.60V345.02H629.20V345.07H630.80V345.12H632.40V345.17H634.00V345.22H635.60V345.27H637.20V345.35H638.80V345.48H640.40V345.61H642.00V345.75H643.60V345.88H645.20V346.01H646.80V346.13H648.40V346.21H650.00V346.29H651.60V346.38H653.20V346.46H654.80V346.54H656.40V346.62H658.00V346.66H659.60V346.70H661.20V346.70H662.80V346.70H664.40V346.70H666.00V346.70H667.60V346.70H669.20V346.70H670.80V346.70H672.40V346.70H674.00V346.70H675.60V346.70H677.20V347.0Z" fill="#ec1d2f" stroke="none"/>
<path d="M482.00 347.0V346.70H483.60V346.70H485.20V346.70H486.80V346.47H488.40V346.16H490.00V345.55H491.60V345.00H493.20V343.96H494.80V342.63H496.40V340.98H498.00V340.64H499.60V338.77H501.20V337.07H502.80V335.07H504.40V332.70H506.00V332.44H507.60V331.05H509.20V327.70H510.80V324.43H512.40V322.39H514.00V320.43H515.60V318.09H517.20V314.88H518.80V313.77H520.40V310.79H522.00V309.67H523.60V307.89H525.20V307.89H526.80V307.37H528.40V306.32H530.00V303.16H531.60V304.63H533.20V305.26H534.80V307.86H536.40V306.22H538.00V306.61H539.60V306.35H541.20V308.92H542.80V306.16H544.40V307.57H546.00V311.60H547.60V312.00H549.20V312.54H550.80V312.67H552.40V313.49H554.00V313.96H555.60V317.15H557.20V317.63H558.80V319.21H560.40V318.88H562.00V321.01H563.60V322.11H565.20V325.34H566.80V325.58H568.40V327.03H570.00V326.12H571.60V327.74H573.20V329.46H574.80V330.51H576.40V330.70H578.00V332.59H579.60V333.47H581.20V332.93H582.80V332.07H584.40V334.61H586.00V335.60H587.60V336.73H589.20V337.57H590.80V337.39H592.40V338.06H594.00V339.07H595.60V339.34H597.20V339.83H598.80V340.23H600.40V341.09H602.00V340.88H603.60V340.85H605.20V341.30H606.80V341.36H608.40V341.77H610.00V342.14H611.60V342.37H613.20V343.09H614.80V343.31H616.40V343.40H618.00V343.72H619.60V343.81H621.20V344.58H622.80V344.36H624.40V344.73H626.00V344.86H627.60V345.02H629.20V345.07H630.80V345.12H632.40V345.17H634.00V345.22H635.60V345.27H637.20V345.35H638.80V345.48H640.40V345.61H642.00V345.75H643.60V345.88H645.20V346.01H646.80V346.13H648.40V346.21H650.00V346.29H651.60V346.38H653.20V346.46H654.80V346.54H656.40V346.62H658.00V346.66H659.60V346.70H661.20V346.70H662.80V346.70H664.40V346.70H666.00V346.70H667.60V346.70H669.20V346.70H670.80V346.70H672.40V346.70H674.00V346.70H675.60V346.70H677.20" fill="none" stroke="#b3142c" stroke-width="0.55"/></g>
<rect x="86.0" y="10.0" width="259.0" height="180.0" fill="none" stroke="#111" stroke-width="1.5"/>
<path d="M86.0 162.91h3.0M345.0 162.91h-3.0M86.0 147.06h3.0M345.0 147.06h-3.0M86.0 135.81h3.0M345.0 135.81h-3.0M86.0 127.09h3.0M345.0 127.09h-3.0M86.0 119.97h3.0M345.0 119.97h-3.0M86.0 113.94h3.0M345.0 113.94h-3.0M86.0 108.72h3.0M345.0 108.72h-3.0M86.0 104.12h3.0M345.0 104.12h-3.0M86.0 100.00h5.0M345.0 100.00h-5.0M86.0 72.91h3.0M345.0 72.91h-3.0M86.0 57.06h3.0M345.0 57.06h-3.0M86.0 45.81h3.0M345.0 45.81h-3.0M86.0 37.09h3.0M345.0 37.09h-3.0M86.0 29.97h3.0M345.0 29.97h-3.0M86.0 23.94h3.0M345.0 23.94h-3.0M86.0 18.72h3.0M345.0 18.72h-3.0M86.0 14.12h3.0M345.0 14.12h-3.0M86.0 100.00h5M345.0 100.00h-5" stroke="#111" stroke-width="1.3" fill="none"/>
<rect x="420.0" y="10.0" width="258.0" height="180.0" fill="none" stroke="#111" stroke-width="1.5"/>
<path d="M420.0 162.91h3.0M678.0 162.91h-3.0M420.0 147.06h3.0M678.0 147.06h-3.0M420.0 135.81h3.0M678.0 135.81h-3.0M420.0 127.09h3.0M678.0 127.09h-3.0M420.0 119.97h3.0M678.0 119.97h-3.0M420.0 113.94h3.0M678.0 113.94h-3.0M420.0 108.72h3.0M678.0 108.72h-3.0M420.0 104.12h3.0M678.0 104.12h-3.0M420.0 100.00h5.0M678.0 100.00h-5.0M420.0 72.91h3.0M678.0 72.91h-3.0M420.0 57.06h3.0M678.0 57.06h-3.0M420.0 45.81h3.0M678.0 45.81h-3.0M420.0 37.09h3.0M678.0 37.09h-3.0M420.0 29.97h3.0M678.0 29.97h-3.0M420.0 23.94h3.0M678.0 23.94h-3.0M420.0 18.72h3.0M678.0 18.72h-3.0M420.0 14.12h3.0M678.0 14.12h-3.0M420.0 100.00h5M678.0 100.00h-5" stroke="#111" stroke-width="1.3" fill="none"/>
<path d="M137.80 190.0v-5M137.80 10.0v5M189.60 190.0v-5M189.60 10.0v5M241.40 190.0v-5M241.40 10.0v5M293.20 190.0v-5M293.20 10.0v5" stroke="#111" stroke-width="1.3" fill="none"/>
<path d="M471.60 190.0v-5M471.60 10.0v5M523.20 190.0v-5M523.20 10.0v5M574.80 190.0v-5M574.80 10.0v5M626.40 190.0v-5M626.40 10.0v5" stroke="#111" stroke-width="1.3" fill="none"/>
<rect x="88.5" y="270.0" width="258.5" height="77.0" fill="none" stroke="#111" stroke-width="1.4"/>
<rect x="420.2" y="270.0" width="258.2" height="77.0" fill="none" stroke="#111" stroke-width="1.4"/>
<path d="M110.40 347.0v-5M110.40 270.0v5M132.40 347.0v-5M132.40 270.0v5M152.20 347.0v-5M152.20 270.0v5M174.10 347.0v-5M174.10 270.0v5M195.50 347.0v-5M195.50 270.0v5M217.20 347.0v-5M217.20 270.0v5M238.70 347.0v-5M238.70 270.0v5M260.70 347.0v-5M260.70 270.0v5M282.30 347.0v-5M282.30 270.0v5M303.80 347.0v-5M303.80 270.0v5M328.00 347.0v-5M328.00 270.0v5" stroke="#111" stroke-width="1.3" fill="none"/>
<path d="M441.40 347.0v-5M441.40 270.0v5M463.30 347.0v-5M463.30 270.0v5M483.70 347.0v-5M483.70 270.0v5M505.50 347.0v-5M505.50 270.0v5M526.70 347.0v-5M526.70 270.0v5M548.50 347.0v-5M548.50 270.0v5M569.30 347.0v-5M569.30 270.0v5M591.70 347.0v-5M591.70 270.0v5M613.50 347.0v-5M613.50 270.0v5M635.40 347.0v-5M635.40 270.0v5M656.80 347.0v-5M656.80 270.0v5" stroke="#111" stroke-width="1.3" fill="none"/>
<path d="M88.5 327.75h5M347.0 327.75h-5M88.5 308.50h5M347.0 308.50h-5M88.5 289.25h5M347.0 289.25h-5" stroke="#111" stroke-width="1.3" fill="none"/>
<path d="M420.2 327.75h5M678.4 327.75h-5M420.2 308.50h5M678.4 308.50h-5M420.2 289.25h5M678.4 289.25h-5" stroke="#111" stroke-width="1.3" fill="none"/>
<text x="79.5" y="20.2"  font-size="18.5" text-anchor="end" fill="#111">10<tspan font-size="13.5" dx="-1.2" dy="-12.2">4</tspan></text>
<text x="79.5" y="110.7"  font-size="18.5" text-anchor="end" fill="#111">10<tspan font-size="13.5" dx="-1.2" dy="-12.2">3</tspan></text>
<text x="79.5" y="200.7"  font-size="18.5" text-anchor="end" fill="#111">10<tspan font-size="13.5" dx="-1.2" dy="-12.2">2</tspan></text>
<text x="412.2" y="20.2"  font-size="18.5" text-anchor="end" fill="#111">10<tspan font-size="13.5" dx="-1.2" dy="-12.2">4</tspan></text>
<text x="412.2" y="110.7"  font-size="18.5" text-anchor="end" fill="#111">10<tspan font-size="13.5" dx="-1.2" dy="-12.2">3</tspan></text>
<text x="412.2" y="200.7"  font-size="18.5" text-anchor="end" fill="#111">10<tspan font-size="13.5" dx="-1.2" dy="-12.2">2</tspan></text>
<text transform="translate(91.6,193.8) rotate(-90)"  font-size="18" text-anchor="end" fill="#111">15 Jul</text>
<text transform="translate(143.4,193.8) rotate(-90)"  font-size="18" text-anchor="end" fill="#111">01 Sep</text>
<text transform="translate(195.2,193.8) rotate(-90)"  font-size="18" text-anchor="end" fill="#111">19 Oct</text>
<text transform="translate(247.0,193.8) rotate(-90)"  font-size="18" text-anchor="end" fill="#111">07 Dec</text>
<text transform="translate(298.8,193.8) rotate(-90)"  font-size="18" text-anchor="end" fill="#111">24 Jan</text>
<text transform="translate(350.6,193.8) rotate(-90)"  font-size="18" text-anchor="end" fill="#111">14 Mar</text>
<text transform="translate(425.6,193.8) rotate(-90)"  font-size="18" text-anchor="end" fill="#111">15 Aug</text>
<text transform="translate(477.20000000000005,193.8) rotate(-90)"  font-size="18" text-anchor="end" fill="#111">26 Sep</text>
<text transform="translate(528.8000000000001,193.8) rotate(-90)"  font-size="18" text-anchor="end" fill="#111">11 Nov</text>
<text transform="translate(580.4,193.8) rotate(-90)"  font-size="18" text-anchor="end" fill="#111">19 Dec</text>
<text transform="translate(632.0,193.8) rotate(-90)"  font-size="18" text-anchor="end" fill="#111">31 Jan</text>
<text transform="translate(683.6,193.8) rotate(-90)"  font-size="18" text-anchor="end" fill="#111">14 Mar</text>
<text transform="translate(93.5,350.3) rotate(-90)"  font-size="15" text-anchor="end" fill="#111">1 Dec</text>
<text transform="translate(115.4,350.3) rotate(-90)"  font-size="15" text-anchor="end" fill="#111">1 Jan</text>
<text transform="translate(137.4,350.3) rotate(-90)"  font-size="15" text-anchor="end" fill="#111">1 Feb</text>
<text transform="translate(157.2,350.3) rotate(-90)"  font-size="15" text-anchor="end" fill="#111">1 Mar</text>
<text transform="translate(179.1,350.3) rotate(-90)"  font-size="15" text-anchor="end" fill="#111">1 Apr</text>
<text transform="translate(200.5,350.3) rotate(-90)"  font-size="15" text-anchor="end" fill="#111">1 May</text>
<text transform="translate(222.2,350.3) rotate(-90)"  font-size="15" text-anchor="end" fill="#111">1 Jun</text>
<text transform="translate(243.7,350.3) rotate(-90)"  font-size="15" text-anchor="end" fill="#111">1 Jul</text>
<text transform="translate(265.7,350.3) rotate(-90)"  font-size="15" text-anchor="end" fill="#111">1 Aug</text>
<text transform="translate(287.3,350.3) rotate(-90)"  font-size="15" text-anchor="end" fill="#111">1 Sep</text>
<text transform="translate(308.8,350.3) rotate(-90)"  font-size="15" text-anchor="end" fill="#111">1 Oct</text>
<text transform="translate(333.0,350.3) rotate(-90)"  font-size="15" text-anchor="end" fill="#111">1 Nov</text>
<text transform="translate(352.0,350.3) rotate(-90)"  font-size="15" text-anchor="end" fill="#111">1 Dec</text>
<text transform="translate(425.2,350.3) rotate(-90)"  font-size="15" text-anchor="end" fill="#111">1 Dec</text>
<text transform="translate(446.4,350.3) rotate(-90)"  font-size="15" text-anchor="end" fill="#111">1 Jan</text>
<text transform="translate(468.3,350.3) rotate(-90)"  font-size="15" text-anchor="end" fill="#111">1 Feb</text>
<text transform="translate(488.7,350.3) rotate(-90)"  font-size="15" text-anchor="end" fill="#111">1 Mar</text>
<text transform="translate(510.5,350.3) rotate(-90)"  font-size="15" text-anchor="end" fill="#111">1 Apr</text>
<text transform="translate(531.7,350.3) rotate(-90)"  font-size="15" text-anchor="end" fill="#111">1 May</text>
<text transform="translate(553.5,350.3) rotate(-90)"  font-size="15" text-anchor="end" fill="#111">1 Jun</text>
<text transform="translate(574.3,350.3) rotate(-90)"  font-size="15" text-anchor="end" fill="#111">1 Jul</text>
<text transform="translate(596.7,350.3) rotate(-90)"  font-size="15" text-anchor="end" fill="#111">1 Aug</text>
<text transform="translate(618.5,350.3) rotate(-90)"  font-size="15" text-anchor="end" fill="#111">1 Sep</text>
<text transform="translate(640.4,350.3) rotate(-90)"  font-size="15" text-anchor="end" fill="#111">1 Oct</text>
<text transform="translate(661.8,350.3) rotate(-90)"  font-size="15" text-anchor="end" fill="#111">1 Nov</text>
<text transform="translate(683.4,350.3) rotate(-90)"  font-size="15" text-anchor="end" fill="#111">1 Dec</text>
<text x="86.0" y="276.8"  font-size="18.5" text-anchor="end" fill="#111">0.02</text>
<text x="86.0" y="315.3"  font-size="18.5" text-anchor="end" fill="#111">0.01</text>
<text x="86.5" y="353.5"  font-size="18.5" text-anchor="end" fill="#111">0</text>
<text x="418.3" y="276.8"  font-size="18.5" text-anchor="end" fill="#111">0.02</text>
<text x="418.3" y="315.3"  font-size="18.5" text-anchor="end" fill="#111">0.01</text>
<text x="418.8" y="353.5"  font-size="18.5" text-anchor="end" fill="#111">0</text>
<text x="96" y="41.7"  font-size="29" fill="#111">(a)</text>
<text x="430.7" y="42.0"  font-size="29" fill="#111">(b)</text>
<text x="96" y="296.7"  font-size="29" fill="#111">(c)</text>
<text x="431" y="297.2"  font-size="29" fill="#111">(d)</text>
<text transform="translate(15.5,94) rotate(-90)"  font-size="19.5" text-anchor="middle" fill="#111">Cumulative number of</text>
<text transform="translate(37.2,95.8) rotate(-90)"  font-size="19.5" text-anchor="middle" fill="#111">cases and deaths</text>
<text transform="translate(15,301.1) rotate(-90)"  font-size="19.5" text-anchor="middle" fill="#111">Distribution of</text>
<text transform="translate(35.7,301.7) rotate(-90)"  font-size="19.5" text-anchor="middle" fill="#111">time to extinction</text>
</svg></body></html>
